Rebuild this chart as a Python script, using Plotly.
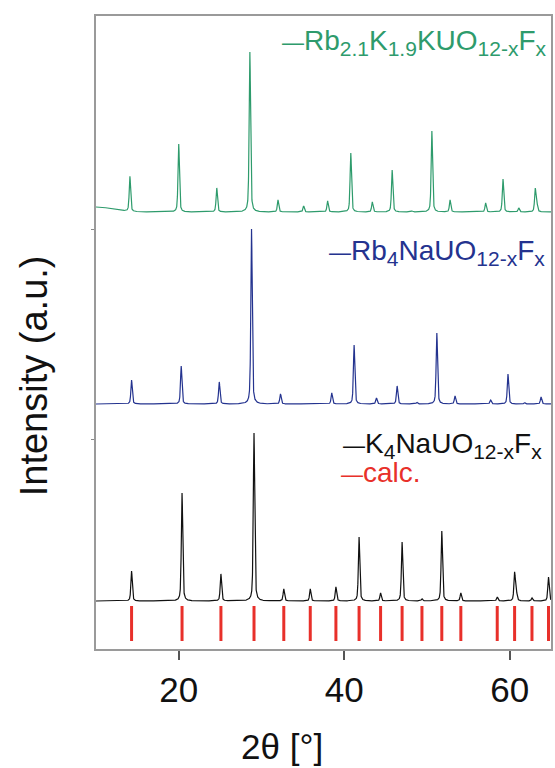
import numpy as np
import plotly.graph_objects as go

# ---- data (2theta in degrees, intensity in a.u.) ----
k_pos = [14.3, 20.4, 25.1, 29.1, 32.7, 35.9, 39.0, 41.8, 44.4, 47.0, 49.4, 51.8, 54.1, 58.5, 60.6, 60.8, 62.7, 64.7]
k_int = [30, 108, 27, 168, 12, 12, 14, 64, 8, 59, 2, 70, 8, 4, 28, 9, 3, 24]

rbna_pos = [14.3, 20.3, 24.9, 28.8, 32.3, 38.5, 41.2, 43.9, 46.4, 48.8, 51.2, 53.4, 57.7, 59.8, 61.8, 63.8]
rbna_int = [24, 38, 22, 175, 10, 11, 59, 6, 18, 1.5, 71, 8, 4, 30, 1.5, 7]

rbk_pos = [14.1, 20.0, 24.6, 28.6, 32.0, 35.1, 38.0, 40.8, 43.4, 45.8, 48.2, 50.6, 52.8, 57.1, 59.2, 61.1, 63.1, 63.3]
rbk_int = [35, 68, 24, 160, 12, 6, 11, 59, 10, 42, 1, 81, 12, 9, 33, 4, 23, 7]
rbk_bg_center = [10.0]
rbk_bg_height = [5.0]

calc_pos = [14.3, 20.4, 25.1, 29.1, 32.7, 35.9, 39.0, 41.8, 44.4, 47.0, 49.4, 51.8, 54.1, 58.5, 60.6, 62.7, 64.7]

offsets = {"k": 48, "rbna": 245, "rbk": 437}
calc_span = (8, 43)

x_range = [10, 65]
x_ticks = [20, 40, 60]

GREEN = "#2e9b6c"
BLUE = "#24338f"
BLACK = "#111111"
RED = "#e8302a"
FRAME = "#9a9a9a"
FONT = "Liberation Sans, Arial, Helvetica, sans-serif"

x = np.linspace(x_range[0], x_range[1], 5501)


def profile(pos, inten, fwhm=0.2, eta=0.5):
    y = np.zeros_like(x)
    g = fwhm / 2.0
    sig = fwhm / 2.3548
    for p, h in zip(pos, inten):
        lor = 1.0 / (1.0 + ((x - p) / g) ** 2)
        gau = np.exp(-0.5 * ((x - p) / sig) ** 2)
        y += h * (eta * lor + (1 - eta) * gau)
    return y


def background(centers, heights, sigma=2.0):
    y = np.zeros_like(x)
    for c, h in zip(centers, heights):
        y += h * np.exp(-0.5 * ((x - c) / sigma) ** 2)
    return y


fig = go.Figure()
fig.add_trace(go.Scatter(x=x, y=offsets["rbk"] + profile(rbk_pos, rbk_int) + background(rbk_bg_center, rbk_bg_height),
                         mode="lines", line=dict(color=GREEN, width=1.2), hoverinfo="skip"))
fig.add_trace(go.Scatter(x=x, y=offsets["rbna"] + profile(rbna_pos, rbna_int),
                         mode="lines", line=dict(color=BLUE, width=1.2), hoverinfo="skip"))
fig.add_trace(go.Scatter(x=x, y=offsets["k"] + profile(k_pos, k_int),
                         mode="lines", line=dict(color=BLACK, width=1.2), hoverinfo="skip"))

cx, cy = [], []
for p in calc_pos:
    cx += [p, p, None]
    cy += [calc_span[0], calc_span[1], None]
fig.add_trace(go.Scatter(x=cx, y=cy, mode="lines", line=dict(color=RED, width=3), hoverinfo="skip"))

W, H = 555, 768
L, R, T, B = 96, 553, 16, 649


def px(xp):
    return (xp - L) / (R - L)


def py(yp):
    return (B - yp) / (B - T)


def sub(s):
    return '<span style="font-size:30px"><sub>' + s + '</sub></span>'


DASH = '<span style="font-size:22px">—</span>'
leg = [
    (DASH + "Rb" + sub("2.1") + "K" + sub("1.9") + "KUO" + sub("12-x") + "F" + sub("x"), GREEN, 281, 42),
    (DASH + "Rb" + sub("4") + "NaUO" + sub("12-x") + "F" + sub("x"), BLUE, 328, 252),
    (DASH + "K" + sub("4") + "NaUO" + sub("12-x") + "F" + sub("x"), BLACK, 342, 445),
    (DASH + "calc.", RED, 340, 472),
]
annotations = []
for text, col, xl, yc in leg:
    annotations.append(dict(text=text, x=px(xl), y=py(yc), xref="paper", yref="paper",
                            xanchor="left", yanchor="middle", showarrow=False,
                            font=dict(family=FONT, size=28, color=col)))

annotations.append(dict(text="Intensity (a.u.)", x=px(34), y=py(376), xref="paper", yref="paper",
                        textangle=-90, xanchor="center", yanchor="middle", showarrow=False,
                        font=dict(family=FONT, size=38, color="#111111")))
annotations.append(dict(text="2θ [°]", x=px(283), y=py(747), xref="paper", yref="paper",
                        xanchor="center", yanchor="middle", showarrow=False,
                        font=dict(family=FONT, size=35, color="#111111")))

fig.update_layout(
    width=W, height=H,
    margin=dict(l=L, r=W - R, t=T, b=H - B),
    paper_bgcolor="white", plot_bgcolor="white",
    showlegend=False,
    annotations=annotations,
    xaxis=dict(range=x_range, tickvals=x_ticks, ticks="outside", ticklen=9, tickwidth=1.5,
               tickcolor="#555555", showgrid=False, zeroline=False,
               showline=True, linecolor=FRAME, linewidth=2, mirror=True,
               tickfont=dict(family=FONT, size=35, color="#111111")),
    yaxis=dict(range=[0, B - T], tickvals=[210, 420], ticks="outside", ticklen=3, tickwidth=1,
               tickcolor="#888888", showticklabels=False, showgrid=False, zeroline=False,
               showline=True, linecolor=FRAME, linewidth=2, mirror=True),
)

fig.write_html("out.html")
